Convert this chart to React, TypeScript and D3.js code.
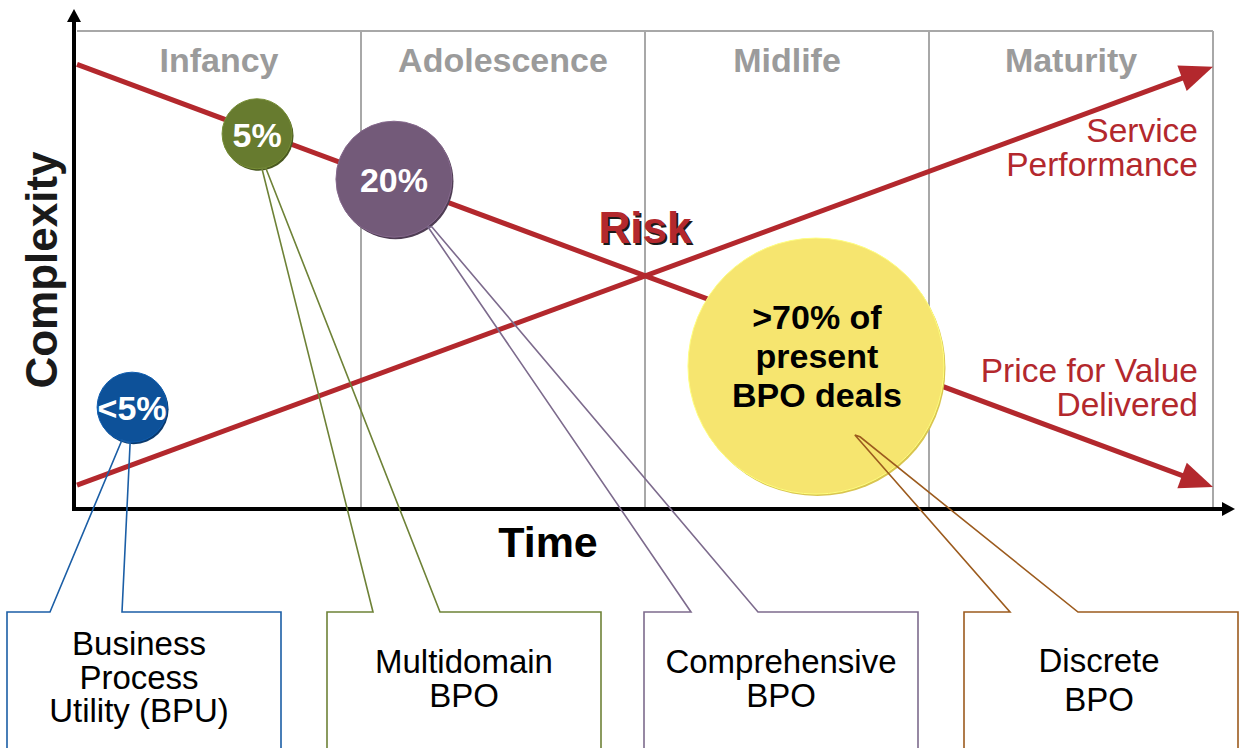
import React from "react";
import * as d3 from "d3";

// ---------- data ----------
const phases = ["Infancy", "Adolescence", "Midlife", "Maturity"];
// lines: time (phase units 0..4) vs complexity (0..100)
const riskLine = [
  { t: 0, c: 93 },
  { t: 4, c: 4.6 },
];
const serviceLine = [
  { t: 0, c: 5 },
  { t: 4, c: 92.5 },
];
const bubbleLabels = [["<5%"], ["5%"], ["20%"], [">70% of", "present", "BPO deals"]];
const bubbleT = [0.194, 0.634, 1.116, 2.602];
const bubbleC = [21.3, 78.5, 69.0, 29.9];
const calloutNames = [
  ["Business", "Process", "Utility (BPU)"],
  ["Multidomain", "BPO"],
  ["Comprehensive", "BPO"],
  ["Discrete", "BPO"],
];
// callout pointer anchors (time, complexity) — two per callout
const calloutAnchors = [
  [
    { t: 0.158, c: 14.4 },
    { t: 0.187, c: 13.8 },
  ],
  [
    { t: 0.651, c: 71.3 },
    { t: 0.665, c: 71.3 },
  ],
  [
    { t: 1.236, c: 59.0 },
    { t: 1.25, c: 59.0 },
  ],
  [
    { t: 2.739, c: 15.5 },
    { t: 2.757, c: 15.1 },
  ],
];

// ---------- styles / layout ----------
const FONT = "'Liberation Sans', Arial, Helvetica, sans-serif";
const RED = "#b3282d";
const GRID = "#a8a8a8";
const bubbleStyle = [
  { fill: "#0d5199", shade: "#0a3a6e", r: 35, fs: 34, color: "#fff", base: [13] },
  { fill: "#677b2f", shade: "#4a5921", r: 35, fs: 34, color: "#fff", base: [13] },
  { fill: "#735a79", shade: "#4f3d54", r: 58, fs: 34, color: "#fff", base: [13] },
  { fill: "#f6e56f", shade: "#d9c550", r: 128, fs: 34, color: "#000", base: [-37, 2, 41] },
];
const boxStyle = [
  { x0: 7, x1: 281, n: [50, 122], stroke: "#1b5ea6", cx: 139, base: [655, 688.5, 722] },
  { x0: 327, x1: 601, n: [373, 440], stroke: "#6e8237", cx: 464, base: [673, 707] },
  { x0: 644, x1: 918, n: [691, 758], stroke: "#7d6b8d", cx: 781, base: [673, 707] },
  { x0: 964, x1: 1238, n: [1010, 1078], stroke: "#9c5b1e", cx: 1099, base: [672, 711] },
];
const BOX_TOP = 612;
const BOX_BOTTOM = 752;

const W = 1240;
const H = 748;
const plotLeft = 77;
const plotRight = 1213;
const plotTop = 31;
const plotBottom = 509;

function arrowHead(x1: number, y1: number, x2: number, y2: number, len: number, half: number) {
  const a = Math.atan2(y2 - y1, x2 - x1);
  const bx = x2 - len * Math.cos(a);
  const by = y2 - len * Math.sin(a);
  const px = -Math.sin(a) * half;
  const py = Math.cos(a) * half;
  return `M${x2},${y2}L${bx + px},${by + py}L${bx - px},${by - py}Z`;
}

export default function App() {
  const x = d3.scaleLinear().domain([0, 4]).range([plotLeft, plotRight]);
  const y = d3.scaleLinear().domain([0, 100]).range([plotBottom, plotTop]);
  const line = d3
    .line<{ t: number; c: number }>()
    .x((d) => x(d.t))
    .y((d) => y(d.c));

  const redLine = (data: { t: number; c: number }[]) => {
    const [p0, p1] = data;
    const x1 = x(p0.t), y1 = y(p0.c), x2 = x(p1.t), y2 = y(p1.c);
    const a = Math.atan2(y2 - y1, x2 - x1);
    const ex = x2 - 24 * Math.cos(a);
    const ey = y2 - 24 * Math.sin(a);
    return (
      <g>
        <path
          d={line([p0, { t: x.invert(ex), c: y.invert(ey) }]) || ""}
          stroke={RED}
          strokeWidth={5}
          fill="none"
        />
        <path d={arrowHead(x1, y1, x2, y2, 33, 13.5)} fill={RED} />
      </g>
    );
  };

  return (
    <svg
      width={W}
      height={H}
      viewBox={`0 0 ${W} ${H}`}
      style={{ position: "absolute", left: 0, top: 0, background: "#fff" }}
      fontFamily={FONT}
    >
      <rect x={0} y={0} width={W} height={H} fill="#fff" />
      {/* grid */}
      <line x1={plotLeft} x2={plotRight} y1={plotTop} y2={plotTop} stroke={GRID} strokeWidth={2} />
      {d3.range(1, 5).map((i) => (
        <line key={i} x1={x(i)} x2={x(i)} y1={plotTop} y2={plotBottom} stroke={GRID} strokeWidth={2} />
      ))}
      {phases.map((p, i) => (
        <text
          key={p}
          x={x(i + 0.5)}
          y={72}
          textAnchor="middle"
          fontSize={34}
          fontWeight="bold"
          fill="#9b9b9b"
        >
          {p}
        </text>
      ))}

      {/* red lines */}
      {redLine(serviceLine)}
      {redLine(riskLine)}

      {/* line labels */}
      <g fill={RED} fontSize={33.5} textAnchor="end">
        <text x={1198} y={142}>Service</text>
        <text x={1198} y={176}>Performance</text>
        <text x={1198} y={382}>Price for Value</text>
        <text x={1198} y={416}>Delivered</text>
      </g>
      <g fontSize={44} fontWeight="bold" textAnchor="middle">
        <text x={647} y={245} fill="#1a1a1a">Risk</text>
        <text x={645} y={243} fill={RED}>Risk</text>
      </g>

      {/* axes */}
      <line x1={74} x2={74} y1={511} y2={20} stroke="#000" strokeWidth={4} />
      <path d={arrowHead(74, 100, 74, 9, 13, 7)} fill="#000" />
      <line x1={72} x2={1224} y1={509} y2={509} stroke="#000" strokeWidth={4} />
      <path d={arrowHead(1100, 509, 1235, 509, 13, 7)} fill="#000" />
      <text
        transform="translate(57,270) rotate(-90)"
        textAnchor="middle"
        fontSize={44}
        fontWeight="bold"
        fill="#1a1a1a"
      >
        Complexity
      </text>
      <text x={548} y={557} textAnchor="middle" fontSize={43} fontWeight="bold" fill="#000">
        Time
      </text>

      {/* bubbles */}
      {bubbleLabels.map((lbl, i) => {
        const s = bubbleStyle[i];
        const cx = x(bubbleT[i]);
        const cy = y(bubbleC[i]);
        return (
          <g key={i}>
            <circle cx={cx + 1.5} cy={cy + 2} r={s.r} fill={s.shade} />
            <circle
              cx={cx}
              cy={cy}
              r={s.r}
              fill={s.fill}
              stroke={d3.color(s.fill)!.brighter(0.4).toString()}
              strokeWidth={1}
            />
            {lbl.map((t, k) => (
              <text
                key={k}
                x={cx + (lbl.length > 1 ? 1 : 0)}
                y={cy + s.base[k]}
                textAnchor="middle"
                fontSize={s.fs}
                fontWeight="bold"
                fill={s.color}
              >
                {t}
              </text>
            ))}
          </g>
        );
      })}

      {/* callouts */}
      {calloutNames.map((names, i) => {
        const b = boxStyle[i];
        const [a1, a2] = calloutAnchors[i];
        const d =
          `M${b.x0},${BOX_BOTTOM}L${b.x0},${BOX_TOP}L${b.n[0]},${BOX_TOP}` +
          `L${x(a1.t)},${y(a1.c)}L${x(a2.t)},${y(a2.c)}L${b.n[1]},${BOX_TOP}` +
          `L${b.x1},${BOX_TOP}L${b.x1},${BOX_BOTTOM}`;
        return (
          <g key={i}>
            <path d={d} fill="none" stroke={b.stroke} strokeWidth={1.6} />
            <rect
              x={b.x0 + 1}
              y={BOX_TOP + 1}
              width={b.x1 - b.x0 - 2}
              height={BOX_BOTTOM - BOX_TOP}
              fill="#fff"
            />
            {names.map((t, k) => (
              <text key={k} x={b.cx} y={b.base[k]} textAnchor="middle" fontSize={33} fill="#000">
                {t}
              </text>
            ))}
          </g>
        );
      })}
    </svg>
  );
}
